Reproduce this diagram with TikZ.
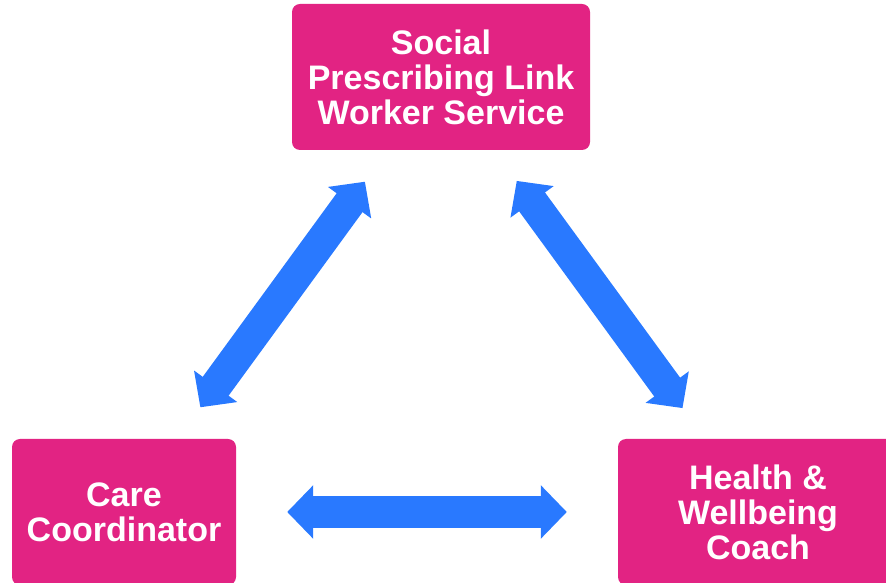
\documentclass[tikz,border=0pt]{standalone}
\usepackage{fontspec}
\setmainfont{Liberation Sans}
\usepackage{tikz}
\usetikzlibrary{arrows.meta}
\usetikzlibrary{positioning}

\definecolor{rolepink}{RGB}{226,35,131}
\definecolor{linkblue}{RGB}{41,121,255}

\begin{document}
\begin{tikzpicture}[
        x=1pt, y=1pt,
        font=\bfseries\fontsize{34}{35}\selectfont,
        % Style for the three role boxes
        rolebox/.style={rectangle, rounded corners=8pt, fill=rolepink, text=white, align=center, minimum height=146pt, inner sep=0pt},
        % Style for the fat two-way arrows between the roles
        linkarrow/.style={draw=linkblue, line width=32pt, line cap=butt,
            {Triangle[width=52pt, length=26pt]}-{Triangle[width=52pt, length=26pt]}}
    ]

    % page area (the right box runs past the edge)
    \clip (0,0) rectangle (886,583);

    % --- 1. ROLE BOXES ---
    \node[rolebox, minimum width=298pt] (SPL) at (441,506) {Social\\Prescribing Link\\Worker Service};
    \node[rolebox, minimum width=224pt] (CC) at (124,71) {Care\\Coordinator};
    \node[rolebox, minimum width=280pt] (HWC) at (758,71) {Health \&\\Wellbeing\\Coach};

    % --- 2. TWO-WAY LINKS ---
    \draw[linkarrow, shorten <=39pt, shorten >=39pt] (CC) -- (SPL);
    \draw[linkarrow, shorten <=38pt, shorten >=38pt] (SPL) -- (HWC);
    \draw[linkarrow, shorten <=51pt, shorten >=51pt] (CC) -- (HWC);

\end{tikzpicture}
\end{document}
